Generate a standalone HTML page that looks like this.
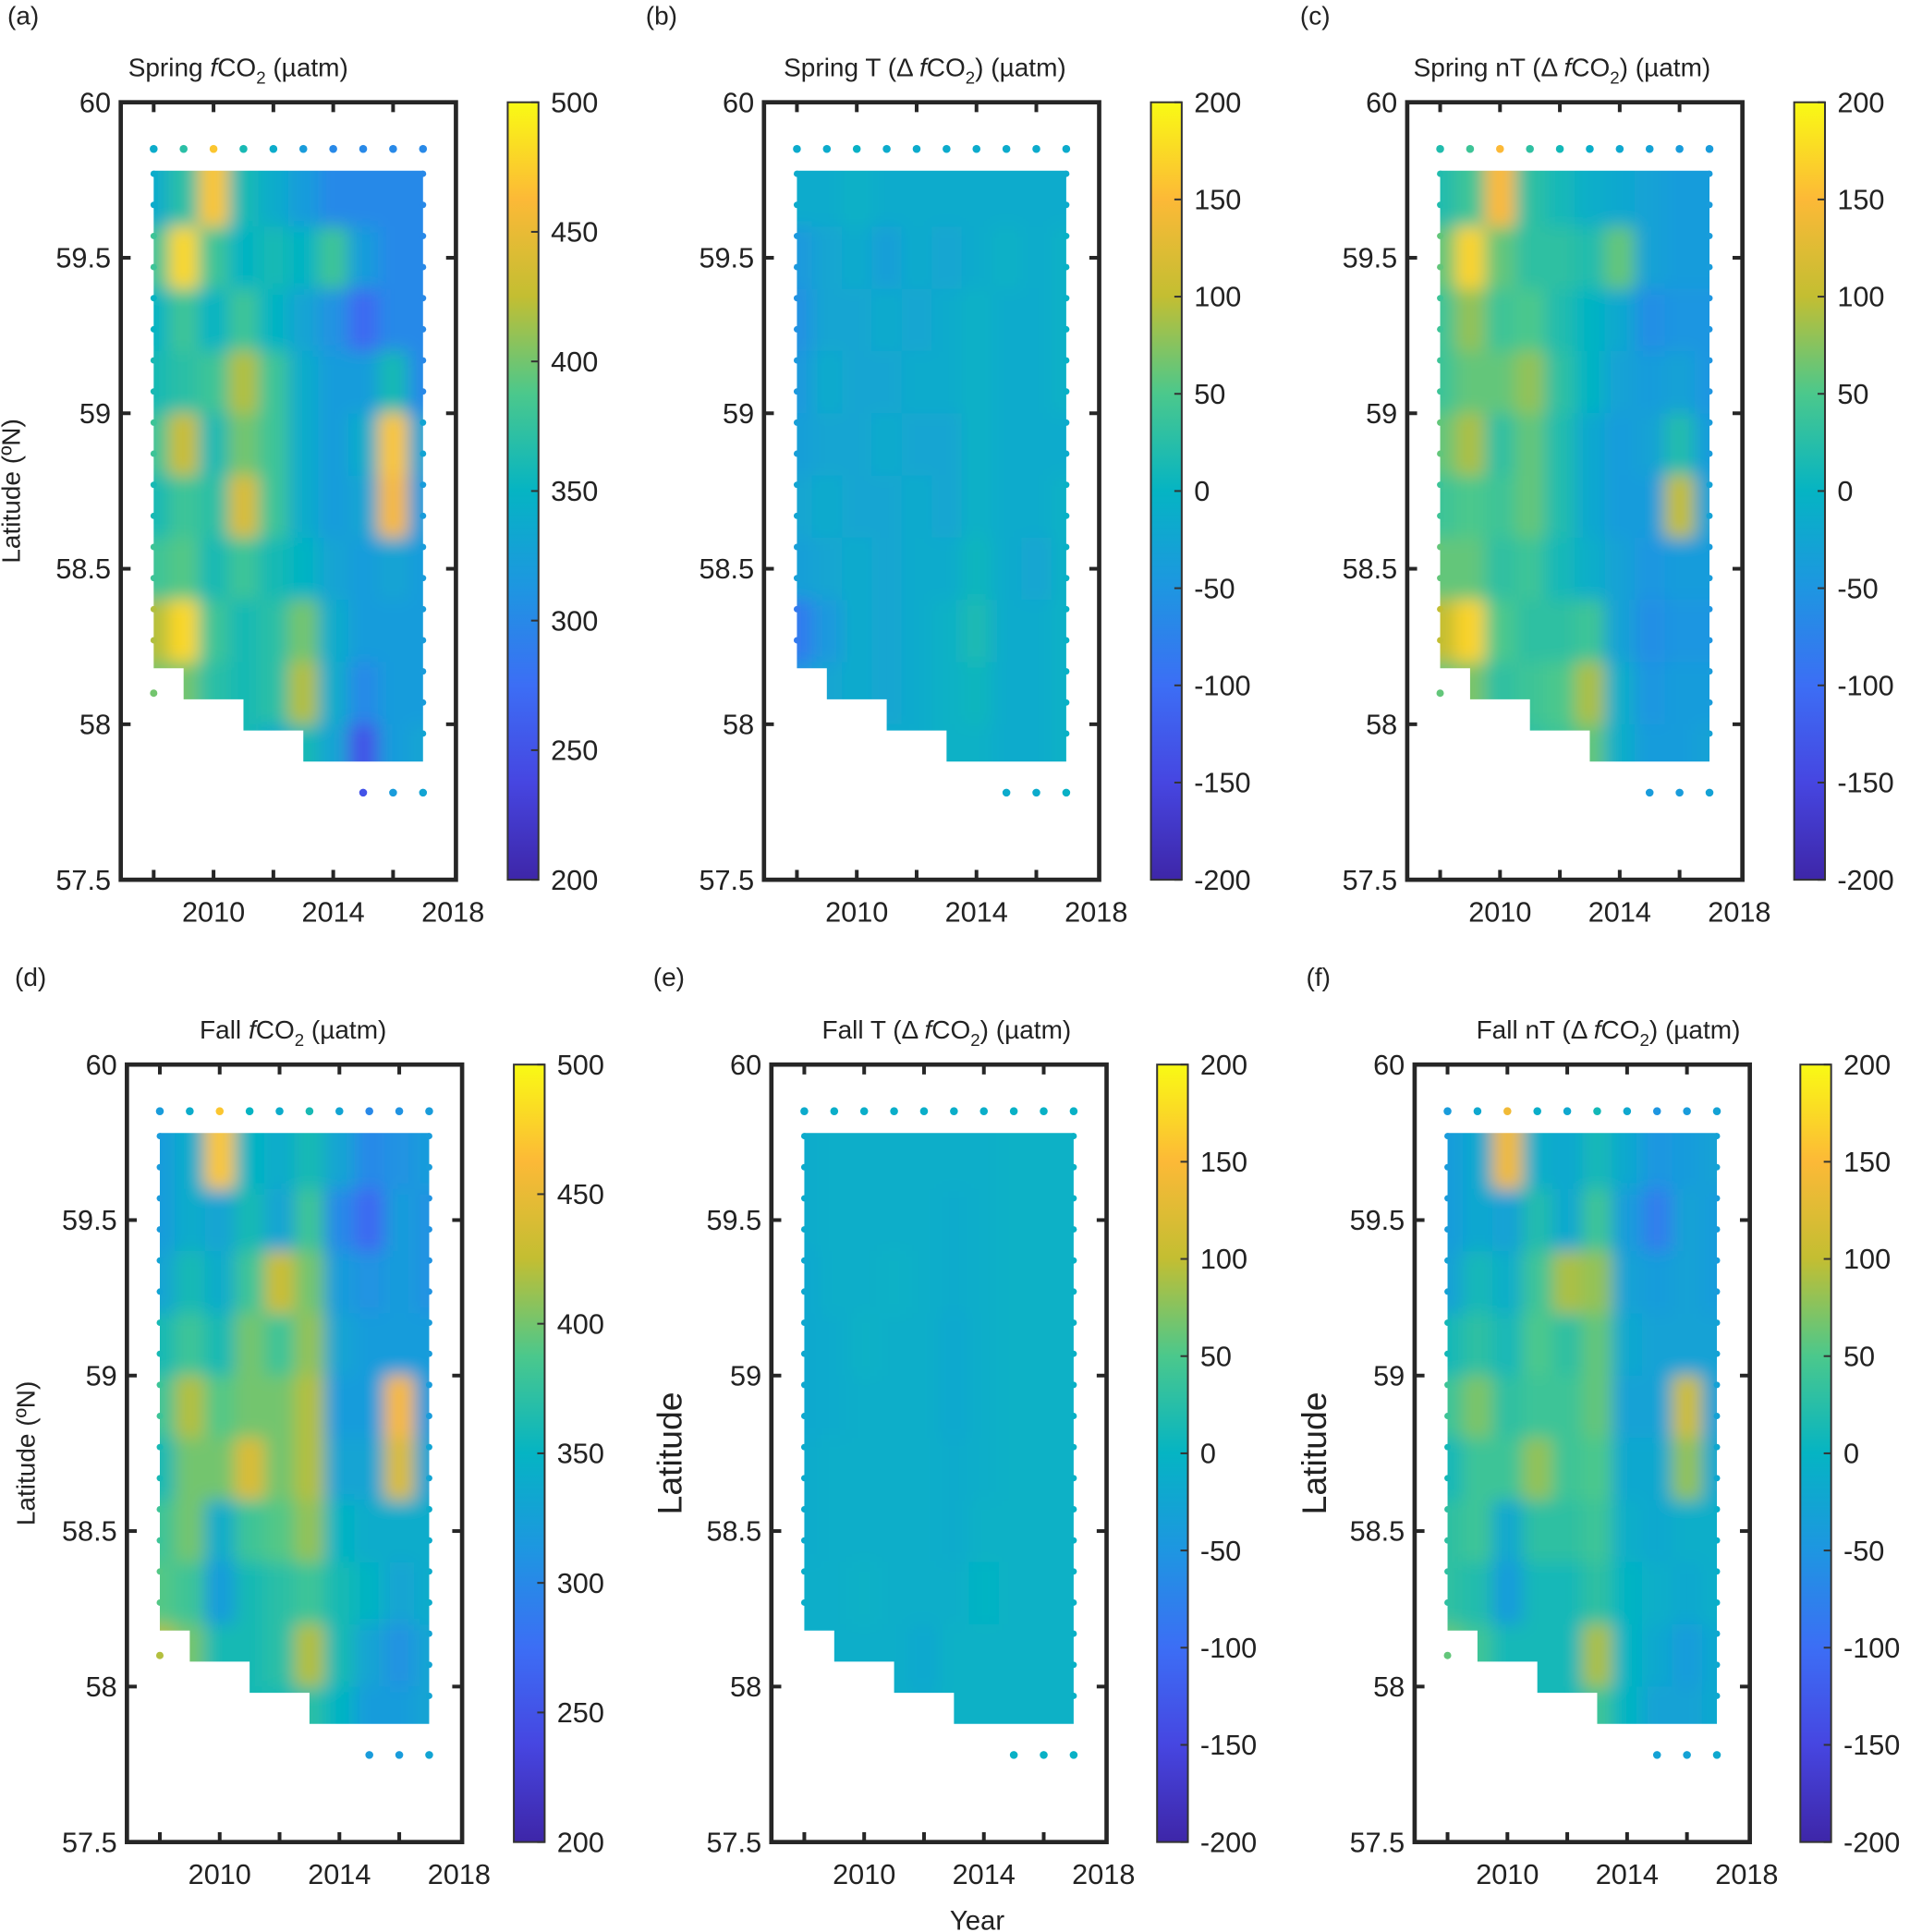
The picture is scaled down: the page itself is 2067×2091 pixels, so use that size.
<!DOCTYPE html>
<html><head><meta charset="utf-8">
<style>
html,body{margin:0;padding:0;background:#fff;}
svg{display:block;font-family:"Liberation Sans",Arial,sans-serif;}
</style></head>
<body>
<svg id="fig" width="2067" height="2091" viewBox="0 0 1550 1568" xmlns="http://www.w3.org/2000/svg">
<defs>
<filter id="blur" x="-10%" y="-10%" width="120%" height="120%"><feGaussianBlur stdDeviation="7"/></filter>
</defs>
</svg>
<script>
const years=[2008,2009,2010,2011,2012,2013,2014,2015,2016,2017];
const lats=[59.7,59.5,59.3,59.1,58.9,58.7,58.5,58.3,58.1,57.9];
const fco2Ticks=[500,450,400,350,300,250,200];
const deltaTicks=[200,150,100,50,0,-50,-100,-150,-200];
const yTicks=[60,59.5,59,58.5,58,57.5];
const xLabelTicks=[2010,2014,2018];
const xMinorTicks=[2008,2010,2012,2014,2016];
const springFco2=[
[340,370,470,360,340,320,300,300,300,300],
[380,480,380,350,360,350,380,320,300,300],
[350,380,350,380,350,330,310,270,300,300],
[360,370,380,420,380,340,320,320,360,300],
[380,430,360,400,380,340,320,340,470,330],
[360,380,370,440,380,340,320,330,460,320],
[380,390,360,380,360,350,330,320,330,320],
[420,480,380,360,370,400,340,320,320,320],
[400,400,370,360,370,420,340,300,320,320],
[400,400,370,360,340,360,330,250,320,330]];
const springT=[
[-15,-15,-5,-15,-15,-15,-15,-15,-15,-15],
[-45,-25,-15,-35,-15,-25,-15,-5,-15,-5],
[-55,-25,-25,-15,-25,-15,-5,-15,-15,-5],
[-45,-15,-25,-25,-15,-15,-5,-15,-15,-5],
[-35,-25,-25,-15,-25,-25,-5,-15,-15,-15],
[-25,-15,-25,-25,-15,-25,-5,-15,-15,-5],
[-35,-25,-15,-25,-15,-15,5,-15,-25,-5],
[-85,-45,-15,-25,-15,-5,15,-15,-15,-5],
[-45,-25,-15,-25,-15,-5,5,-15,-15,-5],
[-25,-25,-15,-15,-15,-5,-5,-15,-15,-5]];
const springNT=[
[20,40,150,30,10,-10,-20,-30,-40,-40],
[60,170,60,30,30,20,60,-30,-40,-40],
[40,80,40,50,20,0,-20,-60,-50,-50],
[40,60,60,80,30,0,-30,-40,-30,-50],
[60,90,30,60,20,-20,-40,-30,20,-40],
[40,50,40,60,20,-20,-40,-40,100,-30],
[60,60,30,40,10,-10,-30,-50,-40,-40],
[100,170,50,30,30,40,-30,-60,-50,-50],
[60,70,30,40,50,90,-10,-50,-40,-40],
[40,40,30,30,40,60,-10,-40,-40,-30]];
const fallFco2=[
[320,340,470,350,340,360,330,300,310,320],
[320,340,330,360,330,380,300,270,320,310],
[330,360,340,380,430,400,320,310,320,310],
[360,380,360,400,380,410,330,320,320,320],
[380,420,390,400,400,420,320,320,460,320],
[360,400,400,440,400,420,330,330,440,330],
[380,400,340,380,390,410,350,340,340,340],
[390,380,320,360,370,380,360,350,330,340],
[420,400,360,360,370,420,360,330,310,330],
[380,380,360,360,360,370,350,320,320,330]];
const fallT=[
[-15,-10,-10,-10,-10,-10,-10,-5,-5,-5],
[-15,-10,-10,-10,-10,-15,-10,-5,-5,-5],
[-20,-10,-10,-5,-10,-15,-10,-5,-5,-5],
[-20,-15,-5,-10,-10,-20,-10,-5,-5,-5],
[-20,-15,-10,-10,-10,-20,-10,-5,-5,-5],
[-15,-10,-10,-10,-10,-15,-10,-5,-5,-5],
[-15,-10,-10,-10,-10,-15,-5,-5,-5,-5],
[-10,-10,-5,-10,-10,-10,0,-5,-5,-5],
[-10,-10,-10,-10,-20,-5,-5,-5,-5,-5],
[-10,-10,-10,-10,-15,-5,-5,-5,-5,-5]];
const fallNT=[
[-40,-20,140,-10,-20,10,-20,-50,-40,-30],
[-40,-20,-30,20,-20,40,-40,-80,-30,-40],
[-30,10,-10,40,90,80,-30,-40,-30,-40],
[10,30,10,50,30,60,-20,-30,-30,-30],
[40,70,30,40,40,60,-30,-30,110,-30],
[10,40,40,80,40,50,-20,-20,80,-20],
[30,40,-20,30,30,40,-10,-20,-10,-10],
[30,20,-40,10,10,30,0,-10,-20,-10],
[60,40,10,10,10,90,0,-20,-40,-20],
[20,20,10,10,10,40,0,-30,-30,-20]];

const NS="http://www.w3.org/2000/svg";
const svg=document.getElementById('fig');
const stops=[[62,38,168],[70,70,225],[60,110,245],[30,150,225],[5,180,195],[75,200,140],[195,190,50],[252,185,55],[249,250,20]];
function parula(t){t=Math.max(0,Math.min(1,t));const s=t*(stops.length-1);const i=Math.min(stops.length-2,Math.floor(s));const f=s-i;const a=stops[i],b=stops[i+1];return `rgb(${Math.round(a[0]+(b[0]-a[0])*f)},${Math.round(a[1]+(b[1]-a[1])*f)},${Math.round(a[2]+(b[2]-a[2])*f)})`;}
function el(tag,attrs,parent){const e=document.createElementNS(NS,tag);for(const k in attrs)e.setAttribute(k,attrs[k]);(parent||svg).appendChild(e);return e;}

const panels=[
{id:'a',x0:98,y0:83,cb:412,data:springFco2,vmin:200,vmax:500,ticks:fco2Ticks,letter:'(a)',lx:6,ly:20,tx:104,ty:62,pre:'Spring ',kind:'abs',ylab:'small',ylx:16},
{id:'b',x0:620,y0:83,cb:934,data:springT,vmin:-200,vmax:200,ticks:deltaTicks,letter:'(b)',lx:524,ly:20,tx:636,ty:62,pre:'Spring T (Δ ',kind:'delta'},
{id:'c',x0:1142,y0:83,cb:1456,data:springNT,vmin:-200,vmax:200,ticks:deltaTicks,letter:'(c)',lx:1055,ly:20,tx:1147,ty:62,pre:'Spring nT (Δ ',kind:'delta'},
{id:'d',x0:103,y0:864,cb:417,data:fallFco2,vmin:200,vmax:500,ticks:fco2Ticks,letter:'(d)',lx:12,ly:800,tx:162,ty:843,pre:'Fall ',kind:'abs',ylab:'small',ylx:28},
{id:'e',x0:626,y0:864,cb:939,data:fallT,vmin:-200,vmax:200,ticks:deltaTicks,letter:'(e)',lx:530,ly:800,tx:667,ty:843,pre:'Fall T (Δ ',kind:'delta',ylab:'big',ylx:553},
{id:'f',x0:1148,y0:864,cb:1461,data:fallNT,vmin:-200,vmax:200,ticks:deltaTicks,letter:'(f)',lx:1060,ly:800,tx:1198,ty:843,pre:'Fall nT (Δ ',kind:'delta',ylab:'big',ylx:1076}
];
const W=272,H=631,CBW=25;

panels.forEach(p=>{
  const g=el('g',{});
  
  
  const xs=y=>p.x0+(y-2006.9)/11.2*W;
  const ys=l=>p.y0+(60-l)/2.5*H;
  const col=v=>parula((v-p.vmin)/(p.vmax-p.vmin));
  const cid='clip'+p.id;
  const cp=el('clipPath',{id:cid},g);
  const poly=[[2008,59.78],[2017,59.78],[2017,57.88],[2013,57.88],[2013,57.98],[2011,57.98],[2011,58.08],[2009,58.08],[2009,58.18],[2008,58.18]];
  el('polygon',{points:poly.map(q=>xs(q[0])+','+ys(q[1])).join(' ')},cp);
  const hg=el('g',{'clip-path':`url(#${cid})`},g);
  
  
  const bg=el('g',{filter:'url(#blur)'},hg);
  p.data.forEach((row,ri)=>{row.forEach((v,ci)=>{
    let y0=years[ci]-0.5,y1=years[ci]+0.5,l0=lats[ri]+0.1,l1=lats[ri]-0.1;
    if(ci===0)y0-=1; if(ci===years.length-1)y1+=1;
    if(ri===0)l0+=0.2; if(ri===lats.length-1)l1-=0.2;
    const r=el('rect',{x:xs(y0),y:ys(l0),width:xs(y1)-xs(y0)+0.5,height:ys(l1)-ys(l0)+0.5,fill:col(v)},bg);
    
    
  });});
  years.forEach((yr,ci)=>{
    const d=el('circle',{cx:xs(yr),cy:ys(59.85),r:3.2,fill:col(p.data[0][ci])},g);
    
    
    if(yr>=2015){
      const d2=el('circle',{cx:xs(yr),cy:ys(57.78),r:3.2,fill:col(p.data[lats.length-1][ci])},g);
      
      
    }
  });
  lats.forEach((lt,ri)=>{
    [0,years.length-1].forEach(ci=>{
      [lt+0.07,lt-0.03].forEach(ll=>{
        if(ll>59.78)return;
        if(ci===0&&ll<58.18)return;
        if(ci===years.length-1&&ll<57.88)return;
        const d=el('circle',{cx:xs(years[ci]),cy:ys(ll),r:2.6,fill:col(p.data[ri][ci])},g);
        
        
      });
    });
  });
  if(p.id==='a'||p.id==='c'||p.id==='d'||p.id==='f'){
    const d=el('circle',{cx:xs(2008),cy:ys(58.1),r:3,fill:col(p.data[8][0])},g);
    
    
  }
  const box=el('rect',{x:p.x0,y:p.y0,width:W,height:H,fill:'none',stroke:'#262626','stroke-width':3.5},g);
  
  
  yTicks.forEach(t=>{
    const yy=ys(t);
    el('line',{x1:p.x0,x2:p.x0+8,y1:yy,y2:yy,stroke:'#262626','stroke-width':3},g);
    el('line',{x1:p.x0+W,x2:p.x0+W-8,y1:yy,y2:yy,stroke:'#262626','stroke-width':3},g);
    const tx=el('text',{x:p.x0-8,y:yy+8,'text-anchor':'end','font-size':23,fill:'#222'},g);
    tx.textContent=String(t);
    
    
  });
  xMinorTicks.forEach(t=>{
    const xx=xs(t);
    el('line',{x1:xx,x2:xx,y1:p.y0+H,y2:p.y0+H-8,stroke:'#262626','stroke-width':3},g);
    el('line',{x1:xx,x2:xx,y1:p.y0,y2:p.y0+8,stroke:'#262626','stroke-width':3},g);
  });
  xLabelTicks.forEach(t=>{
    const tx=el('text',{x:xs(t),y:p.y0+H+34,'text-anchor':'middle','font-size':23,fill:'#222'},g);
    tx.textContent=String(t);
    
    
  });
  const gid='grad'+p.id;
  const lg=el('linearGradient',{id:gid,x1:0,y1:1,x2:0,y2:0},g);
  stops.forEach((s,i)=>el('stop',{offset:i/(stops.length-1),'stop-color':`rgb(${s[0]},${s[1]},${s[2]})`},lg));
  const cbr=el('rect',{x:p.cb,y:p.y0,width:CBW,height:H,fill:`url(#${gid})`,stroke:'#333','stroke-width':1.5},g);
  
  
  p.ticks.forEach(t=>{
    const yy=p.y0+(p.vmax-t)/(p.vmax-p.vmin)*H;
    el('line',{x1:p.cb+CBW,x2:p.cb+CBW-6,y1:yy,y2:yy,stroke:'#333','stroke-width':1.5},g);
    const tx=el('text',{x:p.cb+CBW+10,y:yy+8,'font-size':23,fill:'#222'},g);
    tx.textContent=String(t);
    
    
  });
  const lt=el('text',{x:p.lx,y:p.ly,'font-size':21,fill:'#222'},g);
  lt.textContent=p.letter;
  
  
  const tt=el('text',{x:p.tx,y:p.ty,'font-size':21,fill:'#222'},g);
  
  
  const parts=[[p.pre,''],['f','italic'],['CO','']];
  parts.forEach(q=>{const s=el('tspan',{},tt);if(q[1])s.setAttribute('font-style','italic');s.textContent=q[0];});
  const sub=el('tspan',{'font-size':14,dy:6},tt);sub.textContent='2';
  const rest=el('tspan',{dy:-6},tt);rest.textContent=p.kind==='abs'?' (µatm)':') (µatm)';
  if(p.ylab){
    const cy=p.y0+H/2;
    const big=p.ylab==='big';
    const yl=el('text',{x:p.ylx,y:cy,'text-anchor':'middle','font-size':big?28:21,fill:'#222',transform:`rotate(-90 ${p.ylx} ${cy})`},g);
    yl.textContent=big?'Latitude':'Latitude (ºN)';
    
    
  }
});
const xt=el('text',{x:793,y:1566,'text-anchor':'middle','font-size':22,fill:'#222'});
xt.textContent='Year';


</script>
</body></html>
